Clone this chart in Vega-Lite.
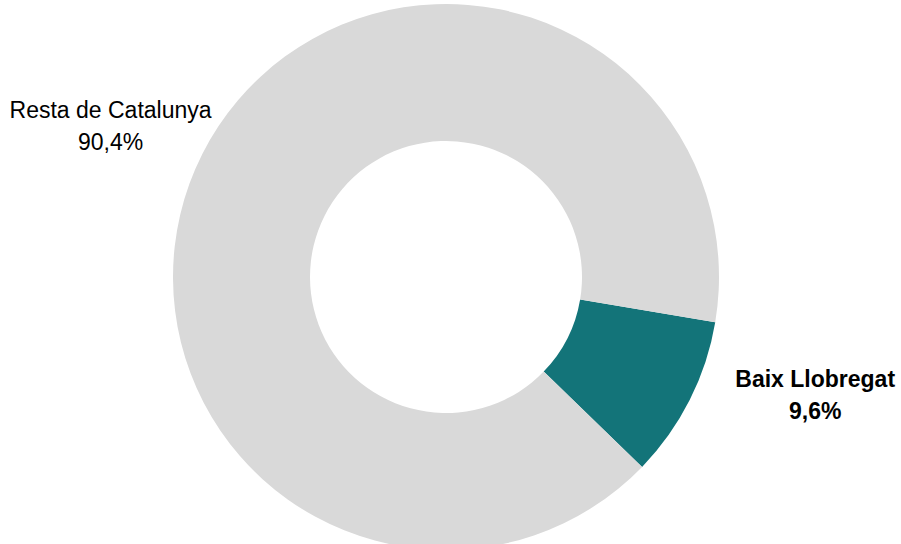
{
  "$schema": "https://vega.github.io/schema/vega-lite/v6.json",
  "autosize": {"type": "fit", "contains": "padding"},
  "width": 901,
  "height": 544,
  "padding": {"left": 0, "top": 10, "right": 9, "bottom": 0},
  "background": "white",
  "config": {"view": {"stroke": null}},
  "data": {
    "values": [
      {"region": "Baix Llobregat", "share": 9.6, "label": "Baix Llobregat\n9,6%"},
      {"region": "Resta de Catalunya", "share": 90.4, "label": "Resta de Catalunya\n90,4%"}
    ]
  },
  "encoding": {
    "theta": {"field": "share", "type": "quantitative", "stack": true, "scale": {"range": [1.737, 8.0202]}},
    "order": {"field": "region", "sort": "ascending"}
  },
  "layer": [
    {
      "mark": {"type": "arc", "radius": 273, "innerRadius": 136, "stroke": null},
      "encoding": {
        "color": {
          "field": "region",
          "type": "nominal",
          "scale": {"domain": ["Baix Llobregat", "Resta de Catalunya"], "range": ["#137479", "#D9D9D9"]},
          "legend": null
        }
      }
    },
    {
      "mark": {"type": "text", "radius": 368, "dx": -7, "dy": 0, "font": "Liberation Sans", "fontSize": 23, "lineBreak": "\n", "lineHeight": 32, "align": "center", "baseline": "middle", "color": "#000000"},
      "encoding": {
        "detail": {"field": "region", "type": "nominal"},
        "text": {"condition": {"test": "datum.region === 'Resta de Catalunya'", "field": "label"}, "value": ""}
      }
    },
    {
      "mark": {"type": "text", "radius": 380, "dx": 30, "dy": -68, "font": "Liberation Sans", "fontSize": 23, "fontWeight": "bold", "lineBreak": "\n", "lineHeight": 32, "align": "center", "baseline": "middle", "color": "#000000"},
      "encoding": {
        "detail": {"field": "region", "type": "nominal"},
        "text": {"condition": {"test": "datum.region === 'Baix Llobregat'", "field": "label"}, "value": ""}
      }
    }
  ]
}
